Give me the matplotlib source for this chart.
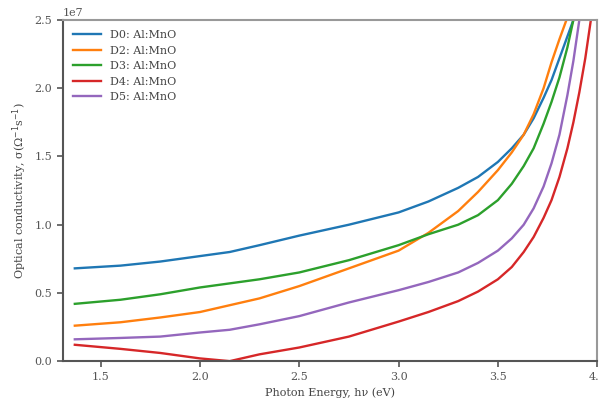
import numpy as np
import matplotlib
matplotlib.use("Agg")
import matplotlib.pyplot as plt

# photon energy grid (eV)
energy = [1.37, 1.6, 1.8, 2.0, 2.15, 2.3, 2.5, 2.75, 3.0, 3.15, 3.3, 3.4, 3.5,
          3.57, 3.63, 3.68, 3.73, 3.77, 3.81, 3.85, 3.88, 3.91, 3.94, 3.97, 4.0]

# optical conductivity (x1e7)
d0 = [0.68, 0.70, 0.73, 0.77, 0.80, 0.85, 0.92, 1.00, 1.09, 1.17, 1.27, 1.35, 1.46,
      1.56, 1.66, 1.78, 1.93, 2.06, 2.22, 2.38, 2.50, 2.65, 2.80, 2.95, 3.10]
d2 = [0.26, 0.285, 0.32, 0.36, 0.41, 0.46, 0.55, 0.68, 0.81, 0.94, 1.10, 1.24, 1.40,
      1.53, 1.66, 1.81, 2.00, 2.19, 2.36, 2.52, 2.65, 2.80, 2.95, 3.10, 3.25]
d3 = [0.42, 0.45, 0.49, 0.54, 0.57, 0.60, 0.65, 0.74, 0.85, 0.93, 1.00, 1.07, 1.18,
      1.30, 1.43, 1.56, 1.74, 1.90, 2.08, 2.30, 2.50, 2.70, 2.90, 3.10, 3.30]
d4 = [0.12, 0.09, 0.06, 0.02, 0.0, 0.05, 0.10, 0.18, 0.29, 0.36, 0.44, 0.51, 0.60,
      0.69, 0.80, 0.91, 1.05, 1.18, 1.35, 1.56, 1.75, 1.97, 2.22, 2.52, 2.80]
d5 = [0.16, 0.17, 0.18, 0.21, 0.23, 0.27, 0.33, 0.43, 0.52, 0.58, 0.65, 0.72, 0.81,
      0.90, 1.00, 1.12, 1.28, 1.45, 1.66, 1.95, 2.20, 2.50, 2.80, 3.05, 3.30]

series = [
    ("D0: Al:MnO", d0, "tab:blue"),
    ("D2: Al:MnO", d2, "tab:orange"),
    ("D3: Al:MnO", d3, "tab:green"),
    ("D4: Al:MnO", d4, "tab:red"),
    ("D5: Al:MnO", d5, "tab:purple"),
]

plt.rcParams["font.family"] = ["DejaVu Serif"]
plt.rcParams["font.size"] = 8

fig = plt.figure(figsize=(5.99, 4.09), dpi=100)
ax = fig.add_axes([0.105, 0.117, 0.892, 0.834])

for name, vals, c in series:
    ax.plot(energy, np.array(vals) * 1e7, color=c, lw=1.7, label=name)

ax.set_xlim(1.31, 4.0)
ax.set_ylim(0, 2.5e7)
ax.set_xticks([1.5, 2.0, 2.5, 3.0, 3.5, 4.0])
ax.set_yticks([0, 0.5e7, 1.0e7, 1.5e7, 2.0e7, 2.5e7])

ax.set_xlabel("Photon Energy, h\u03bd (eV)", color="#444444")
ax.set_ylabel("Optical conductivity, \u03c3(\u03a9$^{-1}$s$^{-1}$)", color="#444444")

for s in ["top", "right"]:
    ax.spines[s].set_color("#999999")
    ax.spines[s].set_linewidth(1.5)
for s in ["left", "bottom"]:
    ax.spines[s].set_color("#555555")
    ax.spines[s].set_linewidth(1.5)

ax.tick_params(direction="out", length=4, width=1.2, colors="#555555",
               labelcolor="#555555")
ax.yaxis.get_offset_text().set_color("#555555")

ax.legend(loc="upper left", frameon=False, fontsize=8, handlelength=2.5,
          labelcolor="#444444")

fig.savefig("out.png", dpi=100)
